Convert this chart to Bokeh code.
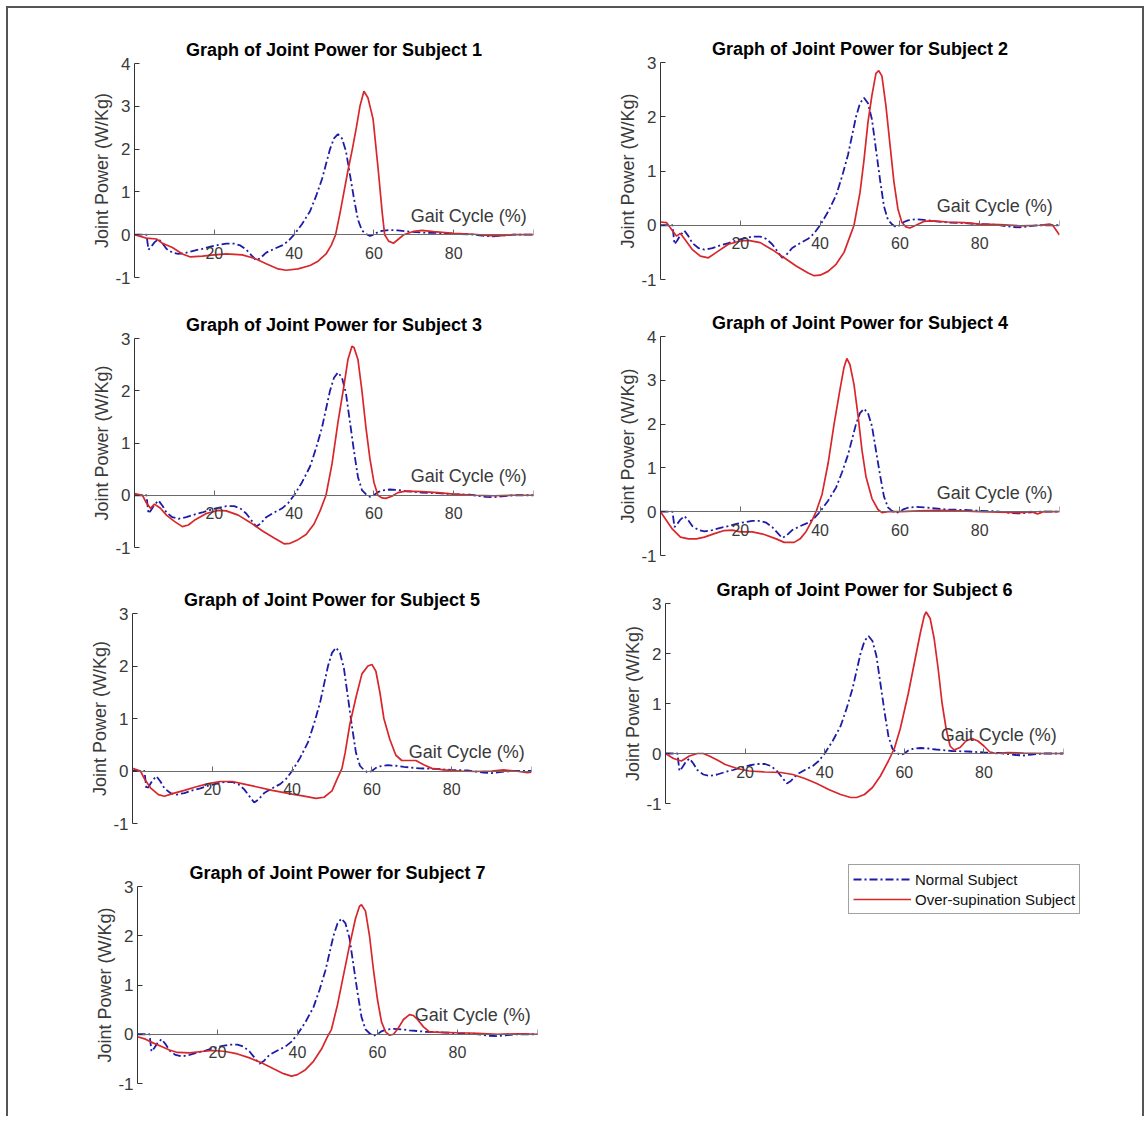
from bokeh.plotting import figure
from bokeh.layouts import column, row
from bokeh.models import Range1d, FixedTicker, Legend, LegendItem
from bokeh.core.properties import value
from bokeh.embed import file_html
from bokeh.resources import INLINE

# ---------------- data ----------------
normal_x = [0, 2, 3, 3.5, 4.2, 5, 6, 7, 8, 9.5, 11, 13, 15, 17, 19, 21, 23, 25, 26.5, 28, 29.5,
            30.5, 31.5, 33, 35, 37, 38.5, 40, 42, 44, 45.5, 47, 48, 49, 50, 51, 52, 53, 54, 55,
            56, 57, 58, 59, 60, 61, 62, 64, 66, 68, 72, 76, 80, 84, 86, 88, 90, 92, 95, 100]
normal_y = [0, 0, 0, -0.35, -0.28, -0.18, -0.1, -0.2, -0.33, -0.42, -0.45, -0.42, -0.37, -0.33,
            -0.28, -0.24, -0.21, -0.21, -0.25, -0.35, -0.5, -0.6, -0.55, -0.42, -0.33, -0.25,
            -0.15, 0.0, 0.25, 0.55, 0.9, 1.3, 1.65, 2.0, 2.25, 2.35, 2.25, 1.95, 1.4, 0.85, 0.35,
            0.1, 0.02, -0.03, 0.0, 0.06, 0.09, 0.11, 0.1, 0.08, 0.05, 0.04, 0.02, 0.01, -0.01,
            -0.03, -0.04, -0.02, 0, 0]

s1_x = [0, 3, 5.5, 7, 9.5, 12, 14, 17, 20, 23, 27, 30, 33, 36, 38, 41, 44, 46, 48, 49.3, 50.4,
        51.5, 52.5, 53.5, 54.6, 55.6, 56.5, 57.5, 58.5, 59.8, 61.1, 62.1, 62.7, 63.7, 64.9, 66.2,
        67.5, 70, 72, 75, 80, 85, 89, 92, 95, 100]
s1_y = [0, -0.08, -0.1, -0.2, -0.3, -0.45, -0.52, -0.5, -0.47, -0.45, -0.47, -0.55, -0.68, -0.8,
        -0.83, -0.8, -0.72, -0.62, -0.45, -0.25, 0, 0.5, 1.0, 1.5, 2.0, 2.5, 3.0, 3.35, 3.2, 2.7,
        1.5, 0.5, 0.0, -0.15, -0.2, -0.1, 0, 0.08, 0.1, 0.07, 0.03, 0.01, -0.02, -0.02, 0, 0]

s2_x = [0, 1.5, 3, 4, 5, 6, 8, 10, 12, 14, 17, 20, 22, 25, 28, 31, 34, 37, 38.5, 40, 42, 44, 46,
        47.5, 48.5, 50, 51, 52, 53, 54, 54.7, 55.5, 56.5, 57.5, 58.5, 59.5, 60.5, 61.5, 62.5, 64,
        66, 68, 72, 76, 80, 85, 90, 95, 97.5, 98.3, 100]
s2_y = [0.06, 0.05, -0.1, -0.2, -0.15, -0.25, -0.45, -0.57, -0.6, -0.5, -0.35, -0.29, -0.28,
        -0.32, -0.45, -0.6, -0.75, -0.88, -0.93, -0.92, -0.85, -0.72, -0.5, -0.2, 0, 0.6, 1.2,
        1.9, 2.4, 2.8, 2.85, 2.75, 2.2, 1.5, 0.8, 0.3, 0.05, -0.03, -0.05, 0, 0.07, 0.08, 0.06,
        0.05, 0.02, 0.01, -0.01, 0, 0.02, 0, -0.18]

s3_x = [0, 2, 3, 4, 5, 6.5, 8, 10, 12, 13.5, 15, 18, 21, 23, 26, 29, 32, 35, 37.5, 39, 41, 43,
        45, 46.5, 48, 49.5, 51, 52.5, 53.5, 54.5, 55, 56, 57, 58, 59, 60, 61, 62, 63, 64.5, 66,
        68, 72, 76, 80, 85, 90, 95, 100]
s3_y = [0.03, 0, -0.15, -0.25, -0.17, -0.25, -0.38, -0.5, -0.6, -0.57, -0.48, -0.35, -0.29,
        -0.3, -0.38, -0.52, -0.68, -0.82, -0.93, -0.92, -0.85, -0.75, -0.55, -0.3, 0, 0.6, 1.4,
        2.1, 2.6, 2.85, 2.83, 2.6, 2.0, 1.3, 0.7, 0.25, 0, -0.05, -0.06, -0.02, 0.05, 0.08,
        0.07, 0.05, 0.02, 0, -0.01, 0, 0]

s4_x = [0, 1.5, 3, 5, 7, 9, 11, 13.5, 16, 18, 20, 23, 26, 29, 31, 33.5, 35, 36.5, 38, 39, 40.5,
        42, 43.5, 45, 46, 46.7, 47.5, 48.5, 49.5, 50.5, 51.5, 53, 54.5, 55.5, 57, 60, 65, 70, 75,
        80, 85, 90, 93, 94.5, 96, 100]
s4_y = [0, -0.2, -0.4, -0.58, -0.62, -0.62, -0.58, -0.5, -0.43, -0.42, -0.46, -0.46, -0.52,
        -0.62, -0.7, -0.7, -0.62, -0.45, -0.2, 0, 0.4, 1.1, 2.0, 2.8, 3.3, 3.5, 3.35, 2.9, 2.2,
        1.4, 0.8, 0.3, 0.05, -0.02, 0, 0, 0.02, 0.03, 0.02, 0, -0.01, -0.02, 0, -0.05, 0, 0]

s5_x = [0, 2, 3, 4.5, 6.5, 8, 10, 13, 16, 19, 22, 25, 28, 31, 35, 40, 43, 46, 48, 50, 51.3, 52.5,
        53.3, 54.5, 56, 57.5, 59, 60, 61, 62, 63, 64.5, 66, 67.5, 69, 71, 73, 75, 78, 82, 86, 90,
        93, 96, 99, 100]
s5_y = [0.05, 0, -0.15, -0.32, -0.45, -0.48, -0.43, -0.37, -0.3, -0.24, -0.2, -0.2, -0.25, -0.3,
        -0.37, -0.44, -0.48, -0.52, -0.5, -0.38, -0.15, 0.05, 0.35, 0.9, 1.4, 1.85, 2.0, 2.03,
        1.9, 1.5, 1.0, 0.6, 0.3, 0.2, 0.2, 0.2, 0.12, 0.05, 0.02, 0, -0.01, 0, 0.02, 0, -0.03,
        -0.02]

s6_x = [0, 2, 4, 6, 8, 9.5, 11, 13, 15, 18, 21, 25, 29, 32, 35, 38, 41, 44, 46.5, 48, 50, 52, 54,
        56, 57.5, 59, 61, 62.5, 64, 65, 65.5, 66.5, 67.5, 68.5, 69.5, 70.5, 71.5, 72.5, 74, 75.5,
        77, 78.5, 80, 81.5, 83, 86, 90, 95, 100]
s6_y = [0, -0.1, -0.15, -0.05, 0, 0, -0.05, -0.13, -0.22, -0.3, -0.35, -0.37, -0.38, -0.42,
        -0.5, -0.6, -0.72, -0.82, -0.88, -0.88, -0.82, -0.68, -0.45, -0.15, 0.1, 0.5, 1.2, 1.8,
        2.4, 2.75, 2.83, 2.7, 2.3, 1.7, 1.0, 0.5, 0.15, 0.07, 0.12, 0.25, 0.3, 0.25, 0.15, 0.03,
        0, 0.02, 0.01, 0, 0]

s7_x = [0, 2, 4, 6, 8, 10, 13, 16, 19, 22, 25, 28, 31, 34, 36.5, 38.5, 40, 42, 44, 46, 47.5,
        48.5, 50, 51.5, 53, 54.5, 55.5, 56, 57, 58, 59, 60, 61, 62, 63, 64, 65, 66.5, 68, 69, 70,
        71.5, 73, 76, 80, 85, 90, 95, 100]
s7_y = [-0.05, -0.1, -0.18, -0.25, -0.32, -0.37, -0.38, -0.35, -0.33, -0.35, -0.4, -0.48, -0.58,
        -0.7, -0.8, -0.85, -0.82, -0.72, -0.55, -0.3, -0.05, 0.1, 0.6, 1.2, 1.8, 2.35, 2.6, 2.63,
        2.5, 2.0, 1.3, 0.7, 0.25, 0.05, -0.02, 0, 0.1, 0.3, 0.4, 0.38, 0.3, 0.15, 0.05, 0.04,
        0.03, 0.02, 0, 0.01, 0]

subjects = ["Subject 1", "Subject 2", "Subject 3", "Subject 4", "Subject 5", "Subject 6", "Subject 7"]
y_max = [4, 3, 3, 4, 3, 3, 3]
x_ticks = [0, 20, 40, 60, 80, 100]
legend_labels = ["Normal Subject", "Over-supination Subject"]
x_label = "Gait Cycle (%)"
y_label = "Joint Power (W/Kg)"

FONT = "Liberation Sans"
BLUE = "#1c1ca8"
RED = "#d8262b"
TXT = "#3a3a3a"
NAN = float("nan")


def subplot(i, red_x, red_y, w, h, left, right, top, bottom):
    p = figure(width=w, height=h, x_range=Range1d(0, 100), y_range=Range1d(-1, y_max[i]),
               output_backend="svg", toolbar_location=None,
               min_border_left=left, min_border_right=right,
               min_border_top=top, min_border_bottom=bottom)
    p.title.text = "Graph of Joint Power for " + subjects[i]
    p.title.align = "center"
    p.title.text_font = FONT
    p.title.text_font_size = "18px"
    p.title.text_font_style = "bold"
    p.title.text_color = "#000000"
    p.title.standoff = 7
    p.outline_line_color = None
    p.grid.visible = False
    p.background_fill_color = "white"

    xa = p.xaxis[0]
    xa.fixed_location = 0
    xa.ticker = FixedTicker(ticks=x_ticks)
    xa.major_label_overrides = {0: "", 100: ""}
    xa.minor_tick_line_color = None
    xa.major_tick_in = 5
    xa.major_tick_out = 0
    xa.axis_line_color = "#6a6a6a"
    xa.major_tick_line_color = "#6a6a6a"
    xa.major_label_text_font = FONT
    xa.major_label_text_font_size = "16px"
    xa.major_label_text_color = TXT
    xa.major_label_standoff = 12

    ya = p.yaxis[0]
    yt = list(range(-1, y_max[i] + 1))
    ya.ticker = FixedTicker(ticks=yt)
    ya.major_label_overrides = {t: str(t) for t in yt}
    ya.minor_tick_line_color = None
    ya.major_tick_in = 5
    ya.major_tick_out = 0
    ya.axis_line_color = "#333333"
    ya.major_tick_line_color = "#333333"
    ya.major_label_text_font = FONT
    ya.major_label_text_font_size = "17px"
    ya.major_label_text_color = TXT
    ya.major_label_standoff = 4
    ya.axis_label = y_label
    ya.axis_label_text_font = FONT
    ya.axis_label_text_font_size = "18px"
    ya.axis_label_text_font_style = "normal"
    ya.axis_label_text_color = TXT
    ya.axis_label_standoff = 0

    p.line(normal_x, normal_y, line_color=BLUE, line_width=1.8, line_dash="8 3 2 3")
    p.line(red_x, red_y, line_color=RED, line_width=1.7)
    p.text(x=[98.3], y=[0], text=[x_label], text_font=value(FONT), text_font_size="18px",
           text_color=TXT, text_align="right", text_baseline="alphabetic", y_offset=-19)
    return p


f1 = subplot(0, s1_x, s1_y, 564, 282, 126, 39, 55, 13)
f2 = subplot(1, s2_x, s2_y, 570, 282, 88, 83, 54, 11)
f3 = subplot(2, s3_x, s3_y, 564, 276, 126, 39, 48, 19)
f4 = subplot(3, s4_x, s4_y, 570, 276, 88, 83, 46, 11)
f5 = subplot(4, s5_x, s5_y, 564, 279, 124, 41, 47, 22)
f6 = subplot(5, s6_x, s6_y, 570, 279, 93, 79, 37, 42)
f7 = subplot(6, s7_x, s7_y, 564, 271, 129, 35, 41, 33)

# legend panel: the frame's top-left corner is where the legend box sits
fl = figure(width=570, height=271, x_range=Range1d(0, 1), y_range=Range1d(0, 1),
            x_axis_type=None, y_axis_type=None, output_backend="svg", toolbar_location=None,
            min_border_left=276, min_border_top=19, min_border_right=10, min_border_bottom=10)
fl.title.visible = False
fl.outline_line_color = None
fl.grid.visible = False
r_norm = fl.line(x=[NAN], y=[NAN], line_color=BLUE, line_width=1.8, line_dash="8 3 2 3")
r_over = fl.line(x=[NAN], y=[NAN], line_color=RED, line_width=1.7)
leg = Legend(items=[LegendItem(label=legend_labels[0], renderers=[r_norm]),
                    LegendItem(label=legend_labels[1], renderers=[r_over])],
             location="top_left")
leg.label_text_font = FONT
leg.label_text_font_size = "15px"
leg.label_text_color = "#111111"
leg.glyph_width = 58
leg.glyph_height = 20
leg.label_height = 20
leg.label_standoff = 4
leg.spacing = 0
leg.padding = 4
leg.margin = 0
leg.border_line_color = "#444444"
leg.border_line_width = 1
leg.background_fill_color = "white"
leg.background_fill_alpha = 1
fl.add_layout(leg, "center")


def cell(f):
    # wrap each figure on its own so that frames are not aligned across a row
    return column(f)


layout = column(row(cell(f1), cell(f2)), row(cell(f3), cell(f4)),
                row(cell(f5), cell(f6)), row(cell(f7), cell(fl)),
                margin=(6, 0, 0, 6),
                styles={"border-top": "2px solid #555555", "border-left": "2px solid #555555",
                        "border-right": "2px solid #555555"})

open("out.html", "w").write(file_html(layout, INLINE))
